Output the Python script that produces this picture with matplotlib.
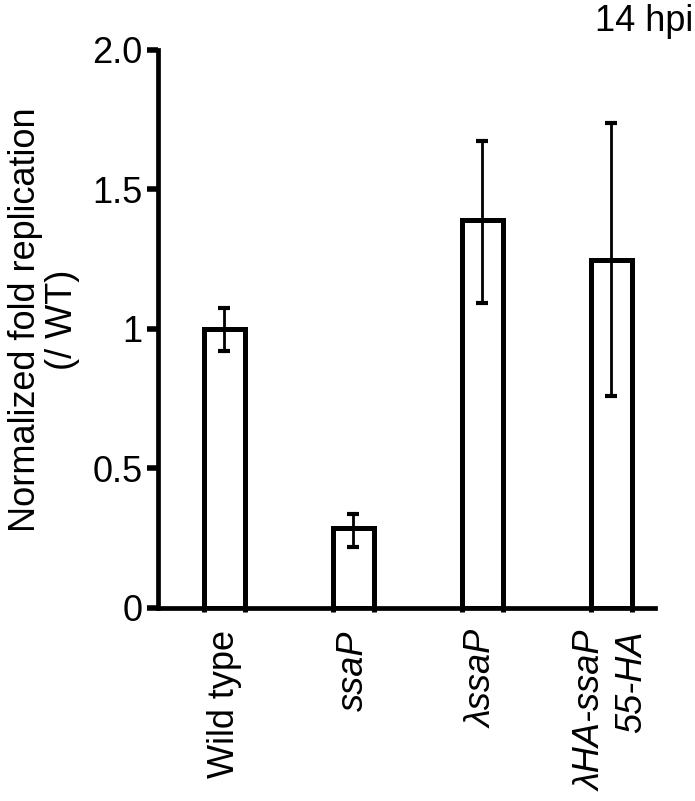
import matplotlib
matplotlib.use("Agg")
import matplotlib.pyplot as plt
import matplotlib.transforms as mtransforms
import numpy as np

plt.rcParams['font.family'] = ['Liberation Sans', 'DejaVu Sans']

categories = ["Wild type", "ssaP", "λssaP", "λHA-ssaP\n55-HA"]
italic = [False, True, True, True]
values = [1.0, 0.287, 1.39, 1.247]
err_low = [0.92, 0.22, 1.093, 0.76]
err_high = [1.075, 0.337, 1.674, 1.738]
yticks = [0, 0.5, 1, 1.5, 2.0]
ytick_labels = ["0", "0.5", "1", "1.5", "2.0"]

FS = 26

fig = plt.figure(figsize=(6.95, 8.01), dpi=100)
ax = fig.add_axes([0.2273, 0.241, 0.7151, 0.6966])

x = np.arange(len(categories))
w = 0.32
ax.bar(x, values, width=w, facecolor='white', edgecolor='black', linewidth=3.6, zorder=2)
vals = np.array(values)
yerr = np.vstack([vals - np.array(err_low), np.array(err_high) - vals])
ax.errorbar(x, vals, yerr=yerr, fmt='none', ecolor='black', elinewidth=2.0,
            capsize=4.5, capthick=3, zorder=3)

ax.set_xlim(-0.515, 3.337)
ax.set_ylim(0, 2.0)
ax.spines['top'].set_visible(False)
ax.spines['right'].set_visible(False)
ax.spines['left'].set_linewidth(3.4)
ax.spines['bottom'].set_linewidth(3.4)

ax.set_yticks(yticks)
ax.set_yticklabels(ytick_labels, fontsize=FS)
ax.tick_params(axis='y', direction='out', length=8, width=4, pad=3)

ax.set_xticks(x)
ax.set_xticklabels(categories, rotation=90, fontsize=FS, va='top', ha='center',
                   multialignment='right')
shifts = [0, 0, -16, -18]
for lab, it, s in zip(ax.get_xticklabels(), italic, shifts):
    if it:
        lab.set_fontstyle('italic')
    if s:
        lab.set_transform(lab.get_transform() +
                          mtransforms.ScaledTranslation(s / 100, 0, fig.dpi_scale_trans))
ax.tick_params(axis='x', length=0, pad=16)
edges = np.concatenate([x - w / 2, x + w / 2])
ax.set_xticks(edges, minor=True)
ax.tick_params(axis='x', which='minor', direction='out', length=3, width=3.6)

fig.text(44 / 695, 1 - 320 / 801, "Normalized fold replication\n(/ WT)", rotation=90,
         ha='center', va='center', fontsize=FS, linespacing=1.05)

fig.text(693 / 695, 1 - 4 / 801, "14 hpi", ha='right', va='top', fontsize=FS)

fig.savefig("out.png", dpi=100)
